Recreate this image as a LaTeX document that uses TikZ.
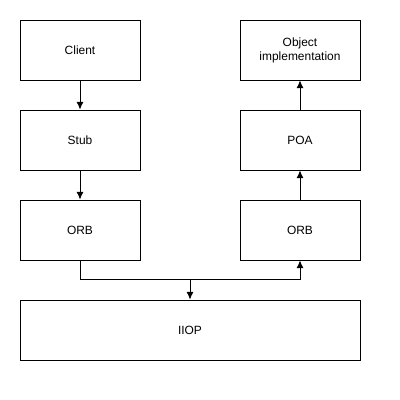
\documentclass[tikz,border=0pt]{standalone}
\usepackage{fontspec}
\setmainfont{Liberation Sans}
\usetikzlibrary{calc,arrows,arrows.meta,positioning}
\tikzset{
    block/.style = {draw, rectangle, 
        minimum height=1.5cm, 
        minimum width=3cm, align=center, font=\fontsize{8.5}{10}\selectfont},
    arrow/.style={draw, -latex}
}
\begin{document}
\begin{tikzpicture}[auto, node distance=2.25cm,>={Latex[length=1.9mm,width=1.7mm]},line width=0.6pt]
        \useasboundingbox (0,0) rectangle (10,-10);
        \node [block] at (2,-1.25) (client) {Client};
        \node [block,below of=client] (stub) {Stub};
        \draw[->] (client) -- (stub);
        \node [block,below of=stub] (orbl) {ORB};
        \draw[->] (stub) -- (orbl);
        \node [block] at (7.5,-1.25) (obj) {Object\\implementation};
        \node [block,below of=obj] (poa) {POA};
        \draw[->] (poa) -- (obj);
        \node [block,below of=poa] (orbr) {ORB};
        \draw[->] (orbr) -- (poa);
        \node [block,minimum width=8.5cm] at (4.75,-8.25) (iiop) {IIOP};
        \coordinate (bus) at ($(iiop.north)+(0,0.5)$);
        \draw[->] (orbl.south) |- (bus) -| (orbr.south);
        \draw[->] (bus) -- (iiop);
    \end{tikzpicture}
\end{document}
